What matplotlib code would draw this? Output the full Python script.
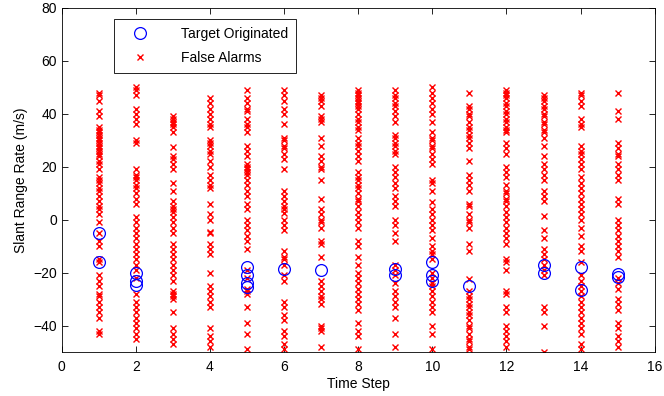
import matplotlib
matplotlib.use('Agg')
import matplotlib.pyplot as plt

plt.rcParams['font.family'] = ['Liberation Sans', 'DejaVu Sans']
plt.rcParams['font.size'] = 10

# false alarm slant range rates (m/s) per time step
fa_1 = [48, 47, 45, 41, 39, 35, 34, 33, 32, 31, 30, 29, 28, 27, 26, 25, 24, 22, 21, 19,
        16, 15, 14, 12, 11, 9, 7, 5, 4, 2, -1, -5, -8, -10, -15, -16, -21, -23, -25,
        -28, -29, -31, -33, -35, -37, -42, -43]
fa_2 = [50, 49, 47, 42, 40, 38, 36, 30, 29, 19, 17, 16, 15, 13, 12, 10, 8, 6, 1, -1,
        -3, -5, -7, -9, -11, -13, -15, -17, -19, -22, -28, -31, -33, -35, -37, -39,
        -41, -43, -45]
fa_3 = [39, 38, 37, 36, 35, 33, 27.5, 24, 23, 21, 19, 14, 11, 7, 5, 4, 3, 1, -1, -3,
        -5, -9, -11, -13, -15, -17, -19, -21, -23, -27, -28, -29, -30, -35, -41, -43,
        -45, -47]
fa_4 = [46, 44, 42, 40, 38, 36, 35, 30, 29, 28, 26, 25, 22, 20, 17, 15, 13, 12, 6, 2,
        0, -4.5, -5, -9, -11, -13, -20, -25, -27, -29, -31, -33, -41, -44, -46, -48]
fa_5 = [49, 46, 44, 42, 41, 38, 36, 35, 33, 28, 26, 24, 21, 20, 19, 18, 17, 15, 13,
        11, 9, 6, 4, 0, -2, -4, -6, -8, -11, -19, -22, -26, -27, -28, -33, -39, -43, -49]
fa_6 = [49, 47, 45, 42, 40, 36, 31, 30, 28, 27, 25, 23, 19, 11, 9, 7, 5, 4, 2.5, 0,
        -2, -4, -12, -14, -15, -17, -21, -23, -31, -33, -36, -38, -42, -44, -47, -49]
fa_7 = [47, 46, 45, 43, 39, 38, 37, 31, 28, 24, 22, 20, 19, 15, 8, 4, 2, 0, -1, -3,
        -8, -9, -14, -23, -25, -27, -29, -30, -32, -40, -41, -42, -48]
fa_8 = [49, 48, 47, 46, 45, 44, 43, 42, 40, 38, 37, 35, 34, 31, 29, 28, 26, 24, 22,
        18, 16, 15, 13, 12, 10, 8, 7, 5, 3, 1, -1, -3, -8, -10, -14, -17, -20, -22,
        -24, -26, -28, -30, -32, -34, -39, -42, -44, -49]
fa_9 = [49, 47, 46, 44, 43, 41, 39, 37, 32, 31, 29, 28, 26, 25, 20, 18, 16, 14, 12,
        9, 7, 5, 0, -2, -5, -8, -17, -19, -21, -24, -27, -29, -31, -33, -37, -43, -48]
fa_10 = [50, 48, 46, 44, 42, 40, 37, 33, 31, 30, 28, 27, 25, 23, 21, 15, 14, 11, 6.5,
         4, 2, 0, -2, -4, -7, -10, -12, -13, -15, -20, -22, -24, -25, -27, -29, -31,
         -33, -35, -40, -43, -49]
fa_11 = [48, 43, 42, 40, 39, 37, 35, 34, 32, 31, 29, 27, 22, 17, 15, 13, 11, 6, 5, 2,
         0, -1, -3, -9, -12, -22.5, -27, -29, -30, -32, -33, -35, -36, -38, -40, -41,
         -43, -45, -46, -48, -49]
fa_12 = [49, 48, 47, 46, 44, 43, 41, 40, 38, 37, 35, 34, 33, 29, 27, 25, 20, 18, 16,
         13, 11, 10, 8, 7, 5, 3, 1, -1, -3, -5, -7, -9, -15, -16, -19, -27, -28, -33,
         -35, -40, -42, -44, -46, -48]
fa_13 = [47, 46, 45, 43, 42, 40, 39, 37, 36, 34, 33, 31, 28, 24, 21, 19, 17, 15, 11,
         9, 7, 1.5, -4, -7, -11, -13, -15, -17, -19, -21, -33, -35, -40, -50]
fa_14 = [48, 47, 45, 43, 38, 36, 35, 28, 26, 25, 23, 21, 19, 16, 14, 12, 10, 8, 6, 4,
         2, 0, -3, -6, -10, -12, -16, -21, -23, -25, -27, -29, -31, -33, -35, -37,
         -39, -41, -43, -47, -49]
fa_15 = [48, 41, 38, 29, 27, 25, 24, 21, 19, 17, 15, 8, 6, 0, -2, -4, -6, -8, -10,
         -12, -14, -22, -24, -26, -30, -32, -34, -39, -41, -44, -46, -48]
false_alarms = [fa_1, fa_2, fa_3, fa_4, fa_5, fa_6, fa_7, fa_8, fa_9, fa_10,
                fa_11, fa_12, fa_13, fa_14, fa_15]

# target originated measurements
target_steps = [1, 1, 2, 2, 2, 5, 5, 5, 5, 6, 7, 9, 9, 10, 10, 10, 11, 13, 13, 14, 14, 15, 15]
target_rates = [-5, -16, -20, -23, -24.5, -18, -21, -24, -25.5, -18.5, -19, -18.5, -21,
                -16, -21, -23, -25, -17, -20, -18, -26.5, -20.5, -21.5]

fig = plt.figure(figsize=(6.64, 3.96), dpi=100)
ax = fig.add_axes([0.093, 0.111, 0.893, 0.869])

fa_x = []
fa_y = []
for k, vals in enumerate(false_alarms):
    fa_x += [k + 1] * len(vals)
    fa_y += vals

ax.plot(target_steps, target_rates, 'o', mfc='none', mec='#0000ff', mew=0.9, ms=8.5,
        ls='none', label='Target Originated', zorder=3)
ax.plot(fa_x, fa_y, 'x', color='#ff0000', mew=1.0, ms=3.8, ls='none',
        label='False Alarms', zorder=2)

ax.set_xlim(0, 16)
ax.set_ylim(-50, 80)
ax.set_xticks(range(0, 17, 2))
ax.set_yticks(range(-40, 81, 20))
ax.tick_params(direction='in', top=True, right=True, length=4, width=0.6)
ax.tick_params(axis='x', pad=6)
for s in ax.spines.values():
    s.set_linewidth(0.6)
ax.set_xlabel('Time Step', labelpad=2)
ax.set_ylabel('Slant Range Rate (m/s)', labelpad=4)

leg = ax.legend(loc='upper left', bbox_to_anchor=(0.088, 0.968), fancybox=False,
                edgecolor='black', framealpha=1, borderpad=0.6, handletextpad=1.6,
                labelspacing=0.7, handlelength=2.6, borderaxespad=0)
leg.get_frame().set_linewidth(0.6)

fig.savefig('out.png', dpi=100)
